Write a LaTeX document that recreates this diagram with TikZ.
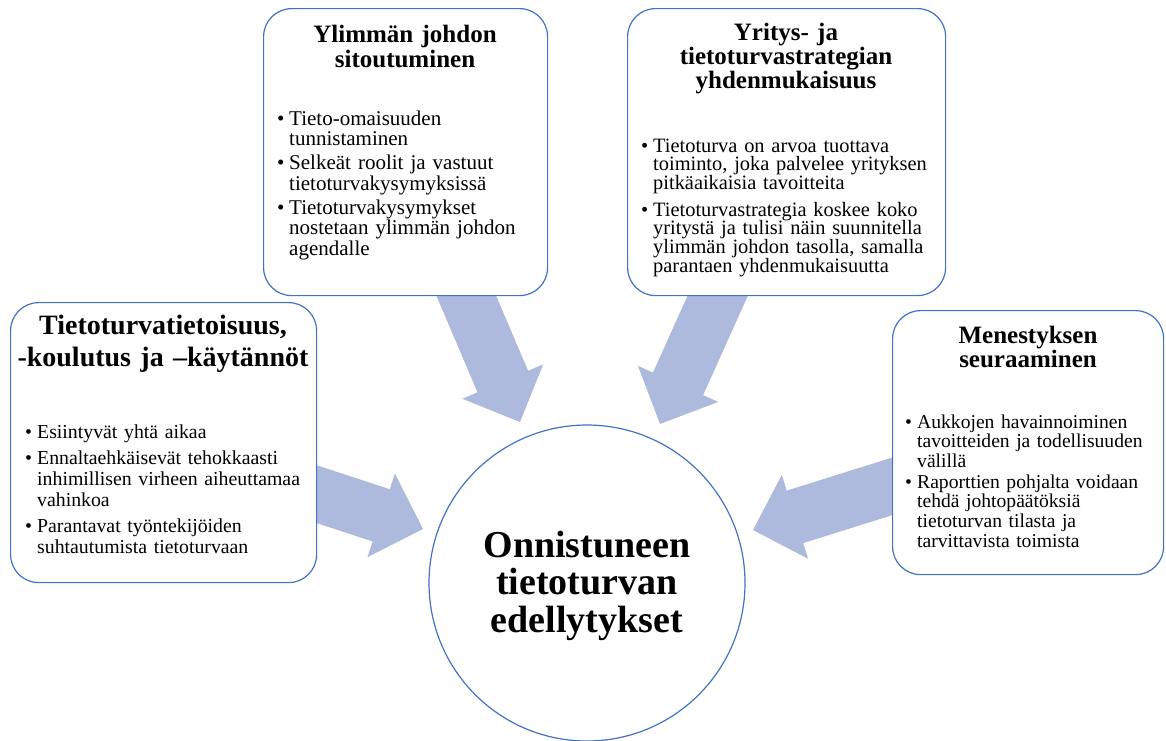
\documentclass[tikz,border=0pt]{standalone}
\usepackage{fontspec}
\setmainfont{Liberation Serif}
\usetikzlibrary{calc}
\definecolor{boxblue}{RGB}{68,114,196}
\definecolor{arrowblue}{RGB}{173,186,222}
\newcommand\bitem[1]{\leftskip=12pt\parindent=0pt\noindent\llap{\makebox[12pt][l]{•}}#1\par}
\newcommand\nl{\newline}
\newcommand\blockarrow[2]{%
  \coordinate (tmpH) at ($(#2)!44pt!(#1)$);
  \fill[arrowblue] ($(#1)!27.5pt!90:(#2)$) -- ($(tmpH)!27.5pt!90:(#2)$) -- ($(tmpH)!44pt!90:(#2)$) -- (#2)
    -- ($(tmpH)!44pt!-90:(#2)$) -- ($(tmpH)!27.5pt!-90:(#2)$) -- ($(#1)!27.5pt!-90:(#2)$) -- cycle;}
\tikzset{
  box/.style={draw=boxblue, line width=1.2pt, rounded corners=28pt, fill=white, anchor=north west, inner sep=0},
  head/.style={font=\bfseries\fontsize{25}{#1}\selectfont, align=center, anchor=base, inner sep=0, text width=320pt},
  body/.style={align=left, anchor=base west, inner sep=0, text width=300pt},
}
\begin{document}
\begin{tikzpicture}[x=1pt,y=-1pt]
\useasboundingbox (0,0) rectangle (1166,740);
% arrow coordinates
\coordinate (a1s) at (461.7,285);
\coordinate (a1e) at (520,422);
\coordinate (a2s) at (722.5,285);
\coordinate (a2e) at (660,424);
\coordinate (a3s) at (306,490.7);
\coordinate (a3e) at (423,529);
\coordinate (a4s) at (900,483.9);
\coordinate (a4e) at (753,530);
\blockarrow{a1s}{a1e}
\blockarrow{a2s}{a2e}
\blockarrow{a3s}{a3e}
\blockarrow{a4s}{a4e}
% boxes
\node[box, minimum width=284pt, minimum height=287pt] (b1) at (263,8) {};
\node[box, minimum width=318pt, minimum height=287pt] (b2) at (627,8) {};
\node[box, minimum width=306pt, minimum height=280pt] (b3) at (10,302) {};
\node[box, minimum width=271pt, minimum height=264pt] (b4) at (892,310) {};
\node[circle, draw=boxblue, line width=1.2pt, fill=white, minimum size=316pt, inner sep=0] (c) at (587,583) {};
% headings
\node[head=25] (h1) at (405,42.5) {Ylimmän johdon\\sitoutuminen};
\node[head=24] (h2) at (786,40.5) {Yritys- ja\\tietoturvastrategian\\yhdenmukaisuus};
\node[head=32, font=\bfseries\fontsize{28}{32}\selectfont] (h3) at (163,334) {Tietoturvatietoisuus,\\-koulutus ja –käytännöt};
\node[head=24] (h4) at (1028,343) {Menestyksen\\seuraaminen};
\node[font=\bfseries\fontsize{38}{37.5}\selectfont, align=center, anchor=base, inner sep=0, text width=320pt] (ct) at (587,557) {Onnistuneen\\tietoturvan\\edellytykset};
% bodies
\node[body, font=\fontsize{21}{20.5}\selectfont\setlength{\parskip}{3.5pt}] (t1) at (277,125) {%
\bitem{Tieto-omaisuuden\nl tunnistaminen}
\bitem{Selkeät roolit ja vastuut\nl tietoturvakysymyksissä}
\bitem{Tietoturvakysymykset\nl nostetaan ylimmän johdon\nl agendalle}};
\node[body, font=\fontsize{20.4}{18.7}\selectfont\setlength{\parskip}{8pt}] (t2) at (641,152) {%
\bitem{Tietoturva on arvoa tuottava\nl toiminto, joka palvelee yrityksen\nl pitkäaikaisia tavoitteita}
\bitem{Tietoturvastrategia koskee koko\nl yritystä ja tulisi näin suunnitella\nl ylimmän johdon tasolla, samalla\nl parantaen yhdenmukaisuutta}};
\node[body, font=\fontsize{19.8}{21}\selectfont\setlength{\parskip}{5pt}] (t3) at (25,438) {%
\bitem{Esiintyvät yhtä aikaa}
\bitem{Ennaltaehkäisevät tehokkaasti\nl inhimillisen virheen aiheuttamaa\nl vahinkoa}
\bitem{Parantavat työntekijöiden\nl suhtautumista tietoturvaan}};
\node[body, font=\fontsize{19.6}{19.7}\selectfont\setlength{\parskip}{1pt}] (t4) at (905,428) {%
\bitem{Aukkojen havainnoiminen\nl tavoitteiden ja todellisuuden\nl välillä}
\bitem{Raporttien pohjalta voidaan\nl tehdä johtopäätöksiä\nl tietoturvan tilasta ja\nl tarvittavista toimista}};
\end{tikzpicture}
\end{document}
